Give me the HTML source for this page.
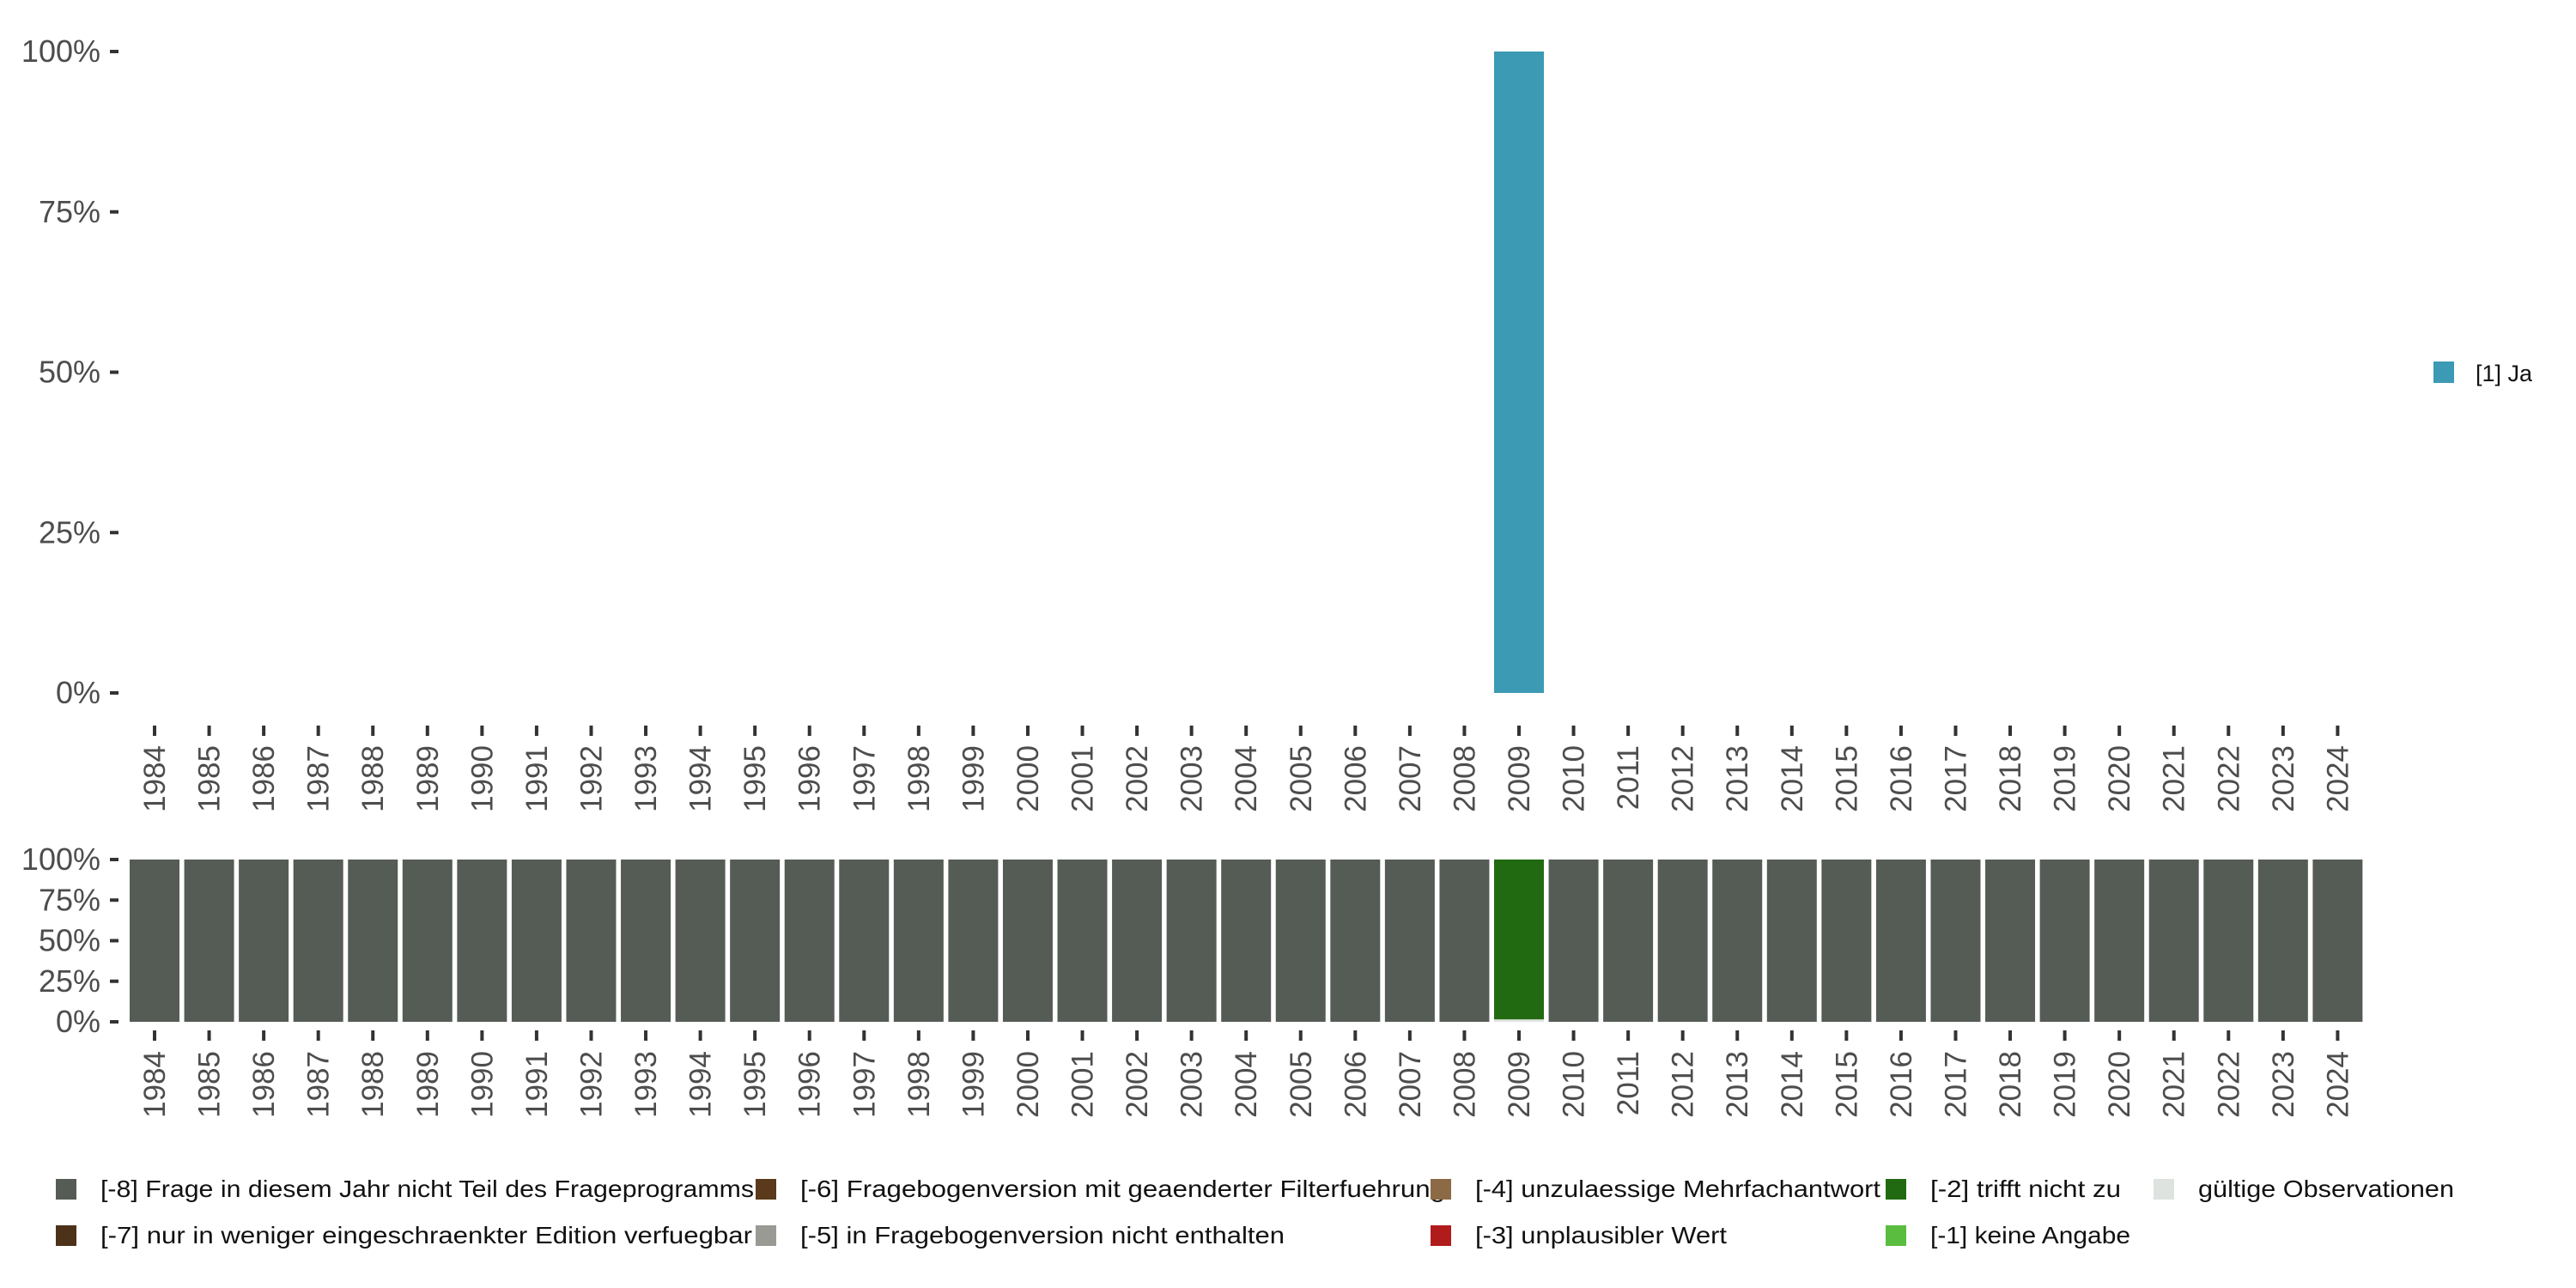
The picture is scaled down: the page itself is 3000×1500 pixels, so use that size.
<!DOCTYPE html>
<html><head><meta charset="utf-8"><style>
html,body{margin:0;padding:0;background:#fff;}
svg{display:block;font-family:"Liberation Sans",sans-serif;}
</style></head><body>
<svg id="chart" width="3000" height="1500" viewBox="0 0 3000 1500" xmlns="http://www.w3.org/2000/svg">
<g id="topPanel"></g>
<g id="bottomPanel"></g>
<g id="legendGroup"></g>
</svg>
<script>
const years = [1984,1985,1986,1987,1988,1989,1990,1991,1992,1993,1994,1995,1996,1997,1998,1999,2000,2001,2002,2003,2004,2005,2006,2007,2008,2009,2010,2011,2012,2013,2014,2015,2016,2017,2018,2019,2020,2021,2022,2023,2024];
const jaShare = {2009: 1.0};
const validShare2009 = 0.015;
const trifftNicht2009 = 0.985;
const yTicks = [0,0.25,0.5,0.75,1];
const yTickLabels = ["0%","25%","50%","75%","100%"];
const legendLabels = ["[-8] Frage in diesem Jahr nicht Teil des Frageprogramms","[-7] nur in weniger eingeschraenkter Edition verfuegbar","[-6] Fragebogenversion mit geaenderter Filterfuehrung","[-5] in Fragebogenversion nicht enthalten","[-4] unzulaessige Mehrfachantwort","[-3] unplausibler Wert","[-2] trifft nicht zu","[-1] keine Angabe","gültige Observationen"];
const legendColors = ["#555c56","#4b3219","#5a3a1a","#9a9a94","#8b6a45","#b01c1c","#216a11","#5bbd40","#dfe3df"];

const NS="http://www.w3.org/2000/svg";
function mk(tag,attrs,parent){const e=document.createElementNS(NS,tag);for(const k in attrs)e.setAttribute(k,attrs[k]);parent.appendChild(e);return e;}
const x0=151, band=63.56, bw=58;
function xL(i){return x0+i*band;}
function xC(i){return x0+i*band+bw/2;}
function yTop(v){return 807-(807-60)*v;}
function yBot(v){return 1190-(1190-1001)*v;}

function axes(g,yf,tickY,labY,name){
  yTicks.forEach((v,i)=>{
    const t=mk('rect',{x:128,y:yf(v)-2,width:10,height:4,fill:'#333'},g);
    
    
    const l=mk('text',{x:117,y:yf(v)+12,'text-anchor':'end','font-size':36,fill:'#4d4d4d'},g);
    
    
    l.textContent=yTickLabels[i];
  });
  years.forEach((yr,i)=>{
    const t=mk('rect',{x:xC(i)-2,y:tickY,width:4,height:12,fill:'#333'},g);
    
    
    const l=mk('text',{x:0,y:0,'text-anchor':'end','font-size':35,fill:'#4d4d4d',transform:`translate(${xC(i)+12},${labY}) rotate(-90)`},g);
    
    
    l.textContent=yr;
  });
}
const topG=document.getElementById('topPanel');
years.forEach((yr,i)=>{
  const v=jaShare[yr]||0;
  if(v>0){
    const r=mk('rect',{x:xL(i),y:yTop(v),width:bw,height:yTop(0)-yTop(v),fill:'#3c9ab4'},topG);
    
    
  }
});
axes(topG,yTop,845,868,'top');

const botG=document.getElementById('bottomPanel');
years.forEach((yr,i)=>{
  if(yr===2009){
    const a=mk('rect',{x:xL(i),y:yBot(validShare2009),width:bw,height:yBot(0)-yBot(validShare2009),fill:'#dfe3df'},botG);
    
    
    const b=mk('rect',{x:xL(i),y:yBot(validShare2009+trifftNicht2009),width:bw,height:yBot(validShare2009)-yBot(validShare2009+trifftNicht2009),fill:'#216a11'},botG);
    
    
  } else {
    const r=mk('rect',{x:xL(i),y:yBot(1),width:bw,height:yBot(0)-yBot(1),fill:'#555c56'},botG);
    
    
  }
});
axes(botG,yBot,1200,1224,'bottom');

const lg=document.getElementById('legendGroup');
const colX=[65,880,1666,2196,2508];
const rowY=[1373,1427];
const textW=[761,759,751,564,472,293,222,233,298];
legendLabels.forEach((lab,i)=>{
  const c=Math.floor(i/2), r=i%2;
  const sq=mk('rect',{x:colX[c],y:rowY[r],width:24,height:24,fill:legendColors[i]},lg);
  
  
  const t=mk('text',{x:colX[c]+52,y:rowY[r]+21,'font-size':28,fill:'#111',textLength:textW[i],lengthAdjust:'spacingAndGlyphs'},lg);
  
  
  t.textContent=lab;
});
const jsq=mk('rect',{x:2834,y:421,width:24,height:25,fill:'#3c9ab4'},lg);


const jt=mk('text',{x:2883,y:444,'font-size':27,fill:'#111'},lg);


jt.textContent='[1] Ja';
</script>
</body></html>
